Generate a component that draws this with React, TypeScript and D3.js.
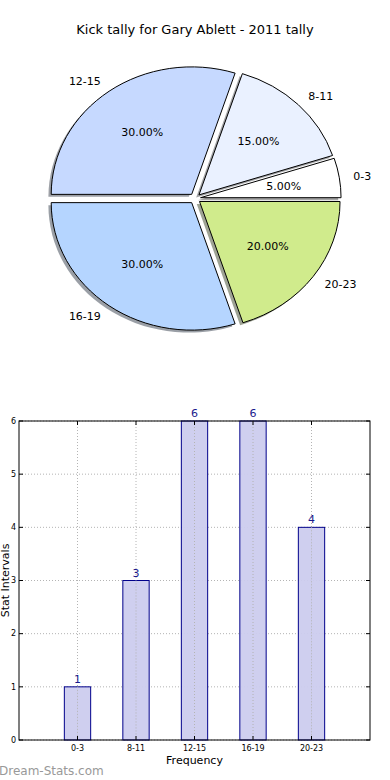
import * as d3 from "d3";
import { useEffect } from "react";

// pie data (order as drawn, counterclockwise from 3 o'clock)
const pieLabels = ["0-3", "8-11", "12-15", "16-19", "20-23"];
const pieValues = [5, 15, 30, 30, 20];
const pieColors = ["#ffffff", "#eaf1ff", "#c6d9ff", "#b5d5ff", "#d0eb8c"];

// bar data
const barLabels = ["0-3", "8-11", "12-15", "16-19", "20-23"];
const barValues = [1, 3, 6, 6, 4];
const yTicks = [0, 1, 2, 3, 4, 5, 6];

const W = 390;
const H = 780;
const FONT = "DejaVu Sans, sans-serif";

function PieChart() {
    const cx = 195, cy = 198.5, rx = 140.5, ry = 127.5;
    const explode = 0.04;
    const total = d3.sum(pieValues);

    // matplotlib style angles (ccw from east)
    let acc = 0;
    const slices = pieValues.map((v, i) => {
        const a0 = (acc / total) * 2 * Math.PI;
        acc += v;
        const a1 = (acc / total) * 2 * Math.PI;
        const mid = (a0 + a1) / 2;
        const ox = explode * rx * Math.cos(mid);
        const oy = -explode * ry * Math.sin(mid);
        return { i, v, a0, a1, mid, ox, oy };
    });

    // unit arc; d3 angle = pi/2 - mpl angle
    const arc = d3.arc<any>().innerRadius(0).outerRadius(1)
        .startAngle(d => Math.PI / 2 - d.a0)
        .endAngle(d => Math.PI / 2 - d.a1);

    const shade = (c: string) => {
        const k = d3.rgb(c);
        return d3.rgb(k.r * 0.3, k.g * 0.3, k.b * 0.3).toString();
    };

    return (
        <g>
            <text x={195} y={34} textAnchor="middle" fontSize={13} fontFamily={FONT}>
                Kick tally for Gary Ablett - 2011 tally
            </text>
            {slices.map(s => (
                <path key={"sh" + s.i} d={arc(s) as string}
                      transform={`translate(${cx + s.ox - 2.8},${cy + s.oy + 2.5}) scale(${rx},${ry})`}
                      fill={shade(pieColors[s.i])} fillOpacity={0.5} stroke="none" />
            ))}
            {slices.map(s => (
                <path key={"p" + s.i} d={arc(s) as string}
                      transform={`translate(${cx + s.ox},${cy + s.oy}) scale(${rx},${ry})`}
                      fill={pieColors[s.i]} stroke="#000" strokeWidth={1}
                      vectorEffect="non-scaling-stroke" />
            ))}
            {slices.map(s => {
                const lx = cx + s.ox + 1.1 * rx * Math.cos(s.mid);
                const ly = cy + s.oy - 1.1 * ry * Math.sin(s.mid);
                const px = cx + s.ox + 0.6 * rx * Math.cos(s.mid);
                const py = cy + s.oy - 0.6 * ry * Math.sin(s.mid);
                return (
                    <g key={"t" + s.i} fontFamily={FONT} fontSize={11}>
                        <text x={lx} y={ly} dy="0.35em"
                              textAnchor={Math.cos(s.mid) > 0 ? "start" : "end"}>
                            {pieLabels[s.i]}
                        </text>
                        <text x={px} y={py} dy="0.35em" textAnchor="middle">
                            {d3.format(".2f")((s.v / total) * 100) + "%"}
                        </text>
                    </g>
                );
            })}
        </g>
    );
}

function BarChart() {
    const left = 19, right = 370, top = 421, bottom = 740;
    const x = d3.scaleLinear().domain([-1, 5]).range([left, right]);
    const y = d3.scaleLinear().domain([0, 6]).range([bottom, top]);
    const bw = 0.45;
    const grid = "#b4b4b4";

    return (
        <g fontFamily={FONT}>
            {/* grid */}
            {yTicks.map(t => (
                <line key={"gy" + t} x1={left} x2={right} y1={y(t)} y2={y(t)}
                      stroke={grid} strokeDasharray="1,2" strokeWidth={1} />
            ))}
            {barLabels.map((_, i) => (
                <line key={"gx" + i} x1={x(i)} x2={x(i)} y1={top} y2={bottom}
                      stroke={grid} strokeDasharray="1,2" strokeWidth={1} />
            ))}
            {/* bars */}
            {barValues.map((v, i) => (
                <rect key={"b" + i} x={x(i - bw / 2)} y={y(v)}
                      width={x(bw) - x(0)} height={y(0) - y(v)}
                      fill="#ccccee" fillOpacity={0.95} stroke="#00008b" strokeWidth={1} />
            ))}
            {/* grid through bars */}
            {barLabels.map((_, i) => (
                <line key={"gx2" + i} x1={x(i)} x2={x(i)} y1={y(barValues[i])} y2={bottom}
                      stroke={grid} strokeDasharray="1,2" strokeWidth={1} />
            ))}
            {barValues.map((v, i) => (
                <text key={"v" + i} x={x(i)} y={y(v) - 4} textAnchor="middle"
                      fontSize={11} fill="#1a1a8c">{v}</text>
            ))}
            {/* frame */}
            <rect x={left} y={top} width={right - left} height={bottom - top}
                  fill="none" stroke="#000" strokeWidth={1} />
            {/* ticks */}
            {yTicks.map(t => (
                <g key={"ty" + t}>
                    <line x1={left} x2={left + 4} y1={y(t)} y2={y(t)} stroke="#000" />
                    <line x1={right} x2={right - 4} y1={y(t)} y2={y(t)} stroke="#000" />
                    <text x={left - 3} y={y(t)} dy="0.35em" textAnchor="end" fontSize={8}>{t}</text>
                </g>
            ))}
            {barLabels.map((l, i) => (
                <g key={"tx" + i}>
                    <line x1={x(i)} x2={x(i)} y1={bottom} y2={bottom - 4} stroke="#000" />
                    <line x1={x(i)} x2={x(i)} y1={top} y2={top + 4} stroke="#000" />
                    <text x={x(i)} y={bottom + 11} textAnchor="middle" fontSize={8}>{l}</text>
                </g>
            ))}
            <text x={(left + right) / 2} y={764} textAnchor="middle" fontSize={11}>Frequency</text>
            <text transform={`translate(9,${(top + bottom) / 2}) rotate(-90)`} textAnchor="middle"
                  fontSize={11}>Stat Intervals</text>
            <text x={-1} y={775} fontSize={12} fill="#999999">Dream-Stats.com</text>
        </g>
    );
}

export default function App() {
    useEffect(() => {
        document.body.style.margin = "0";
    }, []);
    return (
        <svg width={W} height={H} viewBox={`0 0 ${W} ${H}`}
             style={{ display: "block", position: "absolute", left: 0, top: 0, background: "#fff" }}>
            <rect width={W} height={H} fill="#fff" />
            <PieChart />
            <BarChart />
        </svg>
    );
}
